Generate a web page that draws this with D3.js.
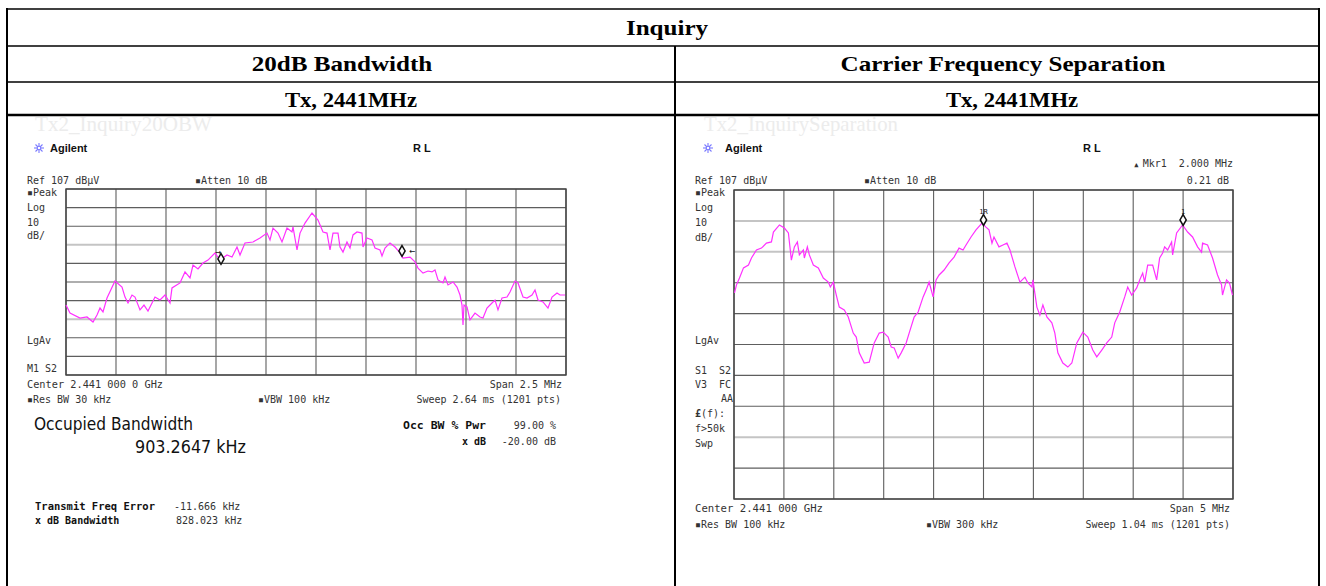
<!DOCTYPE html>
<html><head><meta charset="utf-8">
<script src="https://cdn.jsdelivr.net/npm/d3@7"></script>
<style>body{margin:0;background:#fff}svg{display:block}text{white-space:pre}</style>
</head><body><svg id="c" width="1326" height="586"></svg>
<script>
// ---------- DATA ----------
// 20dB Bandwidth trace: frequency offset from 2.441 GHz (MHz) and level (dBµV)
const bwFreq = [-1.25,-1.23,-1.18,-1.145,-1.115,-1.095,-1.08,-1.065,-1.045,-1.005,-0.97,-0.955,-0.94,-0.92,-0.905,-0.88,-0.86,-0.84,-0.805,-0.78,-0.755,-0.73,-0.72,-0.68,-0.655,-0.63,-0.615,-0.59,-0.565,-0.54,-0.505,-0.48,-0.445,-0.42,-0.395,-0.38,-0.355,-0.315,-0.28,-0.245,-0.23,-0.215,-0.19,-0.17,-0.145,-0.12,-0.115,-0.095,-0.08,-0.055,-0.02,0.01,0.035,0.055,0.07,0.085,0.11,0.12,0.135,0.155,0.17,0.185,0.205,0.23,0.235,0.255,0.28,0.295,0.32,0.33,0.345,0.37,0.395,0.42,0.435,0.47,0.495,0.51,0.535,0.56,0.58,0.595,0.61,0.635,0.645,0.66,0.685,0.705,0.72,0.73,0.735,0.74,0.755,0.77,0.795,0.82,0.835,0.855,0.88,0.895,0.91,0.93,0.955,0.97,0.995,1.01,1.035,1.055,1.08,1.095,1.11,1.135,1.16,1.18,1.205,1.22,1.245];
const bwLevel = [44.6,40.3,37.6,38.2,35.5,39.3,43.0,40.9,48.4,57.5,54.3,48.9,45.7,50.0,48.9,42.0,44.6,41.4,48.9,47.3,50.0,45.7,53.8,56.5,62.4,59.2,66.1,64.0,67.2,68.8,72.6,68.8,71.5,70.4,75.8,71.5,78.0,78.5,80.7,83.3,79.6,86.0,83.3,78.5,86.0,83.9,86.6,74.2,83.3,88.7,94.1,90.3,83.9,83.3,74.2,83.3,83.3,75.8,73.1,78.5,75.3,82.3,83.9,83.3,75.8,80.7,79.6,75.3,74.2,71.0,75.3,78.0,75.8,72.6,69.9,70.4,67.8,64.5,61.8,62.9,62.4,63.5,58.1,56.5,59.7,55.4,57.0,54.3,50.0,44.6,33.9,44.6,43.6,36.6,40.3,38.2,37.6,43.0,45.7,47.3,42.0,48.4,48.9,51.6,57.5,56.5,48.9,48.4,50.0,52.7,47.3,46.3,43.0,48.9,51.1,50.0,50.0];
const bwMarkerFreq = [-0.475, 0.43];
const bwMarkerLevel = [69.4, 73.7];

// Carrier Frequency Separation trace
const sepFreq = [-2.495,-2.475,-2.445,-2.405,-2.355,-2.325,-2.275,-2.225,-2.175,-2.125,-2.105,-2.045,-1.995,-1.955,-1.925,-1.895,-1.865,-1.845,-1.805,-1.795,-1.765,-1.745,-1.705,-1.655,-1.605,-1.555,-1.535,-1.505,-1.475,-1.445,-1.395,-1.355,-1.305,-1.275,-1.245,-1.195,-1.145,-1.095,-1.045,-1.005,-0.955,-0.925,-0.895,-0.855,-0.825,-0.775,-0.745,-0.695,-0.655,-0.605,-0.575,-0.545,-0.505,-0.475,-0.445,-0.395,-0.345,-0.295,-0.245,-0.205,-0.175,-0.125,-0.075,-0.015,0.025,0.055,0.085,0.105,0.155,0.195,0.235,0.265,0.315,0.365,0.415,0.445,0.485,0.495,0.535,0.565,0.595,0.635,0.685,0.715,0.745,0.795,0.845,0.885,0.935,0.995,1.045,1.095,1.135,1.185,1.235,1.285,1.315,1.365,1.415,1.445,1.485,1.535,1.565,1.595,1.615,1.645,1.695,1.735,1.765,1.795,1.815,1.845,1.885,1.895,1.935,1.995,2.045,2.095,2.145,2.185,2.195,2.245,2.295,2.345,2.385,2.395,2.435,2.465,2.495];
const sepLevel = [73.7,76.3,78.5,81.8,82.7,85.0,87.6,88.2,89.8,90.2,93.4,95.7,94.7,93.1,84.3,88.6,90.2,86.0,87.6,85.0,88.6,86.0,82.7,81.8,78.5,77.2,75.6,77.2,73.0,69.1,68.2,65.9,60.7,59.4,54.3,51.0,51.3,57.5,60.7,61.0,59.4,56.2,55.9,52.6,54.3,57.5,60.7,65.9,67.5,72.4,74.6,77.2,72.4,77.9,79.5,81.1,83.4,85.3,88.2,87.6,89.2,91.8,94.1,96.3,95.0,94.1,89.8,91.8,88.6,89.2,89.8,87.6,82.1,77.2,78.8,76.9,75.6,77.9,69.1,66.5,69.8,65.9,64.0,60.7,54.3,51.0,49.7,51.0,57.5,61.0,59.4,55.2,53.0,55.2,57.5,59.4,64.0,67.5,72.4,75.6,73.0,75.3,77.9,80.1,77.2,82.7,82.7,77.9,85.0,86.6,88.6,87.6,90.2,86.0,93.1,95.7,93.4,91.8,88.6,86.9,89.8,89.2,85.0,79.5,76.3,73.0,77.9,76.9,73.0];
const sepMarkerFreq = [0.0, 2.0];
const sepMarkerLevel = [97.3, 97.3];
const sepMarkerLabels = ["1R", "1"];

const refLevel = 107, dbPerDiv = 10, divisions = 10;
const headerTitle = "Inquiry";
const columnTitles = ["20dB Bandwidth", "Carrier Frequency Separation"];
const subTitles = ["Tx, 2441MHz", "Tx, 2441MHz"];

// ---------- DRAW ----------
const svg = d3.select("#c");
svg.append("rect").attr("width",1326).attr("height",586).attr("fill","#fff");

// table
const T = svg.append("g");
const tl = (x1,y1,x2,y2,w)=>T.append("line").attr("x1",x1).attr("y1",y1).attr("x2",x2).attr("y2",y2).attr("stroke","#000").attr("stroke-width",w||1.5);
tl(6,9,1320,9); tl(6,46,1320,46); tl(6,82,1320,82); tl(6,115,1320,115,2.5);
tl(7,8,7,586,2); tl(1319,8,1319,586,2); tl(675,46,675,586,2);
const hdr = (x,y,s,sx)=>T.append("text").attr("x",x).attr("y",y).attr("text-anchor","middle")
  .attr("font-family","'Liberation Serif','Times New Roman',serif").attr("font-weight","bold").attr("font-size",22)
  .attr("transform",`translate(${x},0) scale(${sx},1) translate(${-x},0)`).text(s);
hdr(667,35,headerTitle,1.14);
hdr(342,71,columnTitles[0],1.14); hdr(1003,71,columnTitles[1],1.14);
hdr(351,107,subTitles[0],1.03); hdr(1012,107,subTitles[1],1.03);

const MONO = "'DejaVu Sans Mono',monospace";
function txt(g,x,y,s,o={}){
  const t = g.append("text").attr("x",x).attr("y",y)
    .attr("font-family",o.ff||MONO).attr("font-size",o.fs||10)
    .attr("fill",o.fill||"#333").attr("text-anchor",o.anchor||"start")
    .attr("font-weight",o.bold?"bold":"normal").text(s);
  if(o.len) t.attr("textLength",o.len).attr("lengthAdjust","spacingAndGlyphs");
  return t;
}
function logo(g,x,y){
  const l = g.append("g").attr("transform",`translate(${x},${y})`).attr("stroke","#7a7aff").attr("stroke-width",1.1);
  [[-5,0,5,0],[0,-5,0,5],[-3.5,-3.5,3.5,3.5],[-3.5,3.5,3.5,-3.5]].forEach(d=>l.append("line").attr("x1",d[0]).attr("y1",d[1]).attr("x2",d[2]).attr("y2",d[3]));
  l.append("circle").attr("r",1.8).attr("fill","#fff");
}
function panel(cfg){
  const g = svg.append("g");
  const x = d3.scaleLinear().domain(cfg.span).range([cfg.x0,cfg.x1]);
  const y = d3.scaleLinear().domain([refLevel-dbPerDiv*divisions, refLevel]).range([cfg.y1,cfg.y0]);
  const xt = d3.range(divisions+1).map(i=>cfg.span[0]+i*(cfg.span[1]-cfg.span[0])/divisions);
  const yt = d3.range(divisions+1).map(i=>refLevel-i*dbPerDiv);
  yt.forEach((v,i)=>{
    const light = cfg.lightRows.includes(i);
    g.append("line").attr("x1",cfg.x0).attr("x2",cfg.x1).attr("y1",y(v)).attr("y2",y(v))
      .attr("stroke",light?"#c4c4c4":"#5e5e5e").attr("stroke-width",light?2:1.1);
  });
  xt.forEach((v,i)=>{
    g.append("line").attr("x1",x(v)).attr("x2",x(v)).attr("y1",cfg.y0).attr("y2",cfg.y1)
      .attr("stroke","#5e5e5e").attr("stroke-width",1.1);
  });
  g.append("rect").attr("x",cfg.x0).attr("y",cfg.y0).attr("width",cfg.x1-cfg.x0).attr("height",cfg.y1-cfg.y0)
    .attr("fill","none").attr("stroke","#444").attr("stroke-width",1.4);
  const pts = cfg.freq.map((f,i)=>[f,cfg.level[i]]);
  g.append("path").datum(pts).attr("fill","none").attr("stroke","#ff30ff").attr("stroke-width",1.2)
    .attr("d",d3.line().x(d=>x(d[0])).y(d=>y(d[1])));
  return {g,x,y};
}

// ---- Left panel ----
const L = panel({span:[-1.25,1.25],x0:66,x1:566,y0:189,y1:375,lightRows:[3,7],freq:bwFreq,level:bwLevel});
const gl = L.g;
txt(gl,35,131,"Tx2_Inquiry20OBW",{ff:"'Liberation Serif',serif",fs:21,fill:"#ececec",len:177});
logo(gl,39,148);
txt(gl,50,152,"Agilent",{ff:"'Liberation Sans',Arial,sans-serif",fs:11,bold:true,fill:"#111"});
txt(gl,413,152,"R L",{ff:"'Liberation Sans',Arial,sans-serif",fs:11,bold:true,fill:"#111"});
txt(gl,27,184,"Ref 107 dBµV");
txt(gl,195,184,"▪Atten 10 dB");
txt(gl,27,196,"▪Peak");
txt(gl,27,211,"Log"); txt(gl,27,226,"10"); txt(gl,27,239,"dB/");
txt(gl,27,344,"LgAv");
txt(gl,27,372,"M1 S2");
txt(gl,27,388,"Center 2.441 000 0 GHz",{len:136});
txt(gl,27,403,"▪Res BW 30 kHz");
txt(gl,258,403,"▪VBW 100 kHz");
txt(gl,562,388,"Span 2.5 MHz",{anchor:"end"});
txt(gl,561,403,"Sweep 2.64 ms (1201 pts)",{anchor:"end"});
txt(gl,34,430,"Occupied Bandwidth",{ff:"'DejaVu Sans',sans-serif",fs:17,fill:"#111",len:159});
txt(gl,135,453,"903.2647 kHz",{ff:"'DejaVu Sans',sans-serif",fs:17,fill:"#111",len:111});
txt(gl,403,429,"Occ BW % Pwr",{bold:true,fill:"#111",len:83});
txt(gl,556,429,"99.00 %",{anchor:"end"});
txt(gl,486,445,"x dB",{bold:true,fill:"#111",anchor:"end"});
txt(gl,556,445,"-20.00 dB",{anchor:"end"});
txt(gl,35,510,"Transmit Freq Error",{bold:true,fill:"#111",len:120});
txt(gl,174,510,"-11.666 kHz");
txt(gl,35,524,"x dB Bandwidth",{bold:true,fill:"#111"});
txt(gl,176,524,"828.023 kHz");
const dia = d3.symbol().type(d3.symbolDiamond).size(34);
bwMarkerFreq.forEach((f,i)=>{
  const mx = L.x(f), my = L.y(bwMarkerLevel[i]);
  gl.append("path").attr("d",dia()).attr("transform",`translate(${mx},${my})`).attr("fill","#fff").attr("stroke","#111").attr("stroke-width",1.5);
  if(i===0) txt(gl,mx-3,my-4,"→",{fs:10,fill:"#111",anchor:"middle"});
  else txt(gl,mx+10,my+3.5,"←",{fs:10,fill:"#111",anchor:"middle"});
});

// ---- Right panel ----
const R = panel({span:[-2.5,2.5],x0:734,x1:1233,y0:190,y1:499,lightRows:[1,2,8],freq:sepFreq,level:sepLevel});
const gr = R.g;
txt(gr,704,131,"Tx2_InquirySeparation",{ff:"'Liberation Serif',serif",fs:21,fill:"#ececec",len:194});
logo(gr,708,148);
txt(gr,725,152,"Agilent",{ff:"'Liberation Sans',Arial,sans-serif",fs:11,bold:true,fill:"#111"});
txt(gr,1083,152,"R L",{ff:"'Liberation Sans',Arial,sans-serif",fs:11,bold:true,fill:"#111"});
const mk = txt(gr,1233,167,"",{anchor:"end"});
mk.append("tspan").attr("font-size",7).text("▲ ");
mk.append("tspan").text("Mkr1  2.000 MHz");
txt(gr,1229,184,"0.21 dB",{anchor:"end"});
txt(gr,695,184,"Ref 107 dBµV");
txt(gr,864,184,"▪Atten 10 dB");
txt(gr,695,196,"▪Peak");
txt(gr,695,211,"Log"); txt(gr,695,226,"10"); txt(gr,695,241,"dB/");
txt(gr,695,344,"LgAv");
txt(gr,695,374,"S1  S2");
txt(gr,695,388,"V3  FC");
txt(gr,733,402,"AA",{anchor:"end"});
const lf = txt(gr,695,417,"");
lf.append("tspan").attr("font-weight","bold").text("£");
lf.append("tspan").text("(f):");
txt(gr,695,432,"f>50k");
txt(gr,695,447,"Swp");
txt(gr,695,512,"Center 2.441 000 GHz",{len:128});
txt(gr,695,528,"▪Res BW 100 kHz");
txt(gr,926,528,"▪VBW 300 kHz");
txt(gr,1230,512,"Span 5 MHz",{anchor:"end"});
txt(gr,1230,528,"Sweep 1.04 ms (1201 pts)",{anchor:"end"});
sepMarkerFreq.forEach((f,i)=>{
  const mx = R.x(f), my = R.y(sepMarkerLevel[i]);
  gr.append("path").attr("d",dia()).attr("transform",`translate(${mx},${my})`).attr("fill","#fff").attr("stroke","#111").attr("stroke-width",1.5);
  txt(gr,mx,my-6,sepMarkerLabels[i],{fs:7,fill:"#111",anchor:"middle"});
});
</script></body></html>
